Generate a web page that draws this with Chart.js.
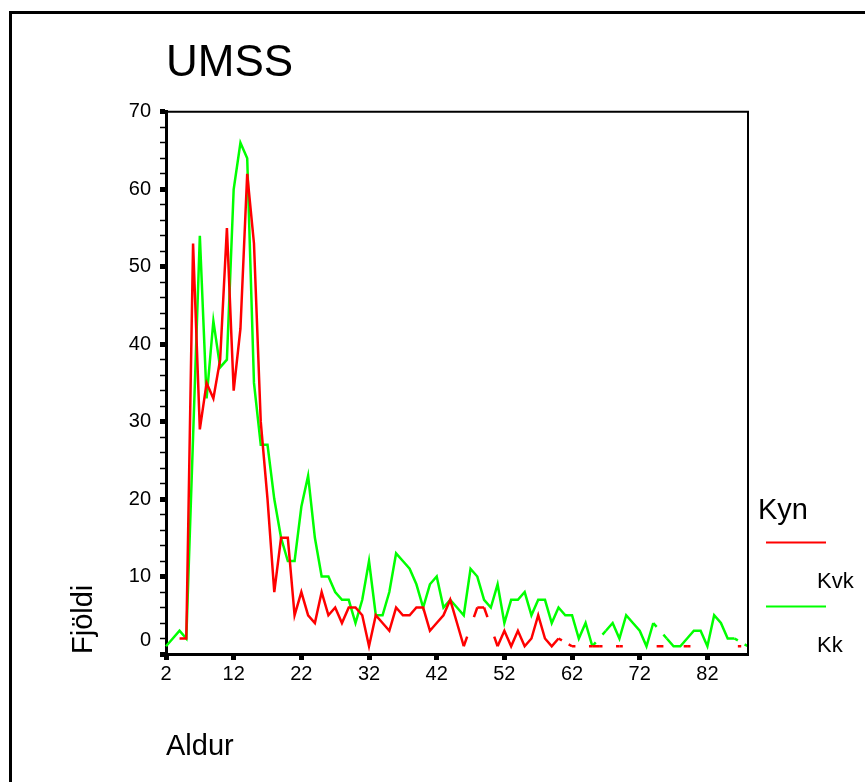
<!DOCTYPE html>
<html>
<head>
<meta charset="utf-8">
<script src="https://cdn.jsdelivr.net/npm/chart.js@4.4.0/dist/chart.umd.min.js"></script>
<style>
  html, body { margin: 0; padding: 0; background: #fff; }
  #wrap { position: relative; width: 865px; height: 782px; overflow: hidden; }
  #frame { position: absolute; left: 9px; top: 11px; width: 900px; height: 900px;
           border-left: 3px solid #000; border-top: 3px solid #000; }
  canvas { position: absolute; left: 0; top: 0; }
</style>
</head>
<body>
<div id="wrap">
  <div id="frame"></div>
  <canvas id="umssChart" width="865" height="782"></canvas>
</div>
<script>
// Aldur (age) categories
const ages = [
  2, 3, 4, 5, 6, 7, 8, 9, 10, 11, 12, 13, 14, 15, 16, 17, 18, 19, 20, 21,
  22, 23, 24, 25, 26, 27, 28, 29, 30, 31, 32, 33, 34, 35, 36, 37, 38, 39, 40, 41,
  42, 43, 44, 45, 46, 47, 48, 49, 50, 51, 52, 53, 54, 55, 56, 57, 58, 59, 60, 61,
  62, 63, 64, 65, 66, 67, 68, 69, 70, 71, 72, 73, 74, 75, 76, 77, 78, 79, 80, 81,
  82, 83, 84, 85, 86, 87, 88
];

// Fjöldi per age, null = no cases at that age
const kvk = [
  null, null, 2, 2, 53, 29, 35, 33, 38, 55, 34, 42, 62, 53, 30, 20, 8, 15, 15, 5,
  8, 5, 4, 8, 5, 6, 4, 6, 6, 5, 1, 5, 4, 3, 6, 5, 5, 6, 6, 3,
  4, 5, 7, 4, 1, null, 6, 6, null, 1, 3, 1, 3, 1, 2, 5, 2, 1, 2, null,
  1, null, null, 1, 1, null, null, 1, null, null, null, null, null, 1, null, null, null, 1, null, null,
  null, null, null, null, null, 1, null
];

const kk = [
  1, 2, 3, 2, 28, 54, 33, 43, 37, 38, 60, 66, 64, 35, 27, 27, 20, 15, 12, 12,
  19, 23, 15, 10, 10, 8, 7, 7, 4, 7, 12, 5, 5, 8, 13, 12, 11, 9, 6, 9,
  10, 6, 7, 6, 5, 11, 10, 7, 6, 9, 4, 7, 7, 8, 5, 7, 7, 4, 6, 5,
  5, 2, 4, 1, null, 3, 4, 2, 5, 4, 3, 1, 4, null, 2, 1, 1, 2, 3, 3,
  1, 5, 4, 2, 2, null, 1
];

const xTickLabels = [2, 12, 22, 32, 42, 52, 62, 72, 82];
const yTickLabels = [0, 10, 20, 30, 40, 50, 60, 70];
const legendTitle = "Kyn";

const FONT = '"Liberation Sans", Arial, sans-serif';

// SPSS keeps the line through a missing age but leaves half a step blank
// on each side of it; do the same with a dash on the spanned segment.
function gapDash(ctx) {
  if (!ctx.p0.skip && !ctx.p1.skip) return undefined;
  const values = ctx.chart.data.datasets[ctx.datasetIndex].data;
  let a = ctx.p0DataIndex;
  while (a >= 0 && values[a] == null) a--;
  let b = ctx.p1DataIndex;
  while (b < values.length && values[b] == null) b++;
  if (a < 0 || b >= values.length) return undefined;
  const pts = ctx.chart.getDatasetMeta(ctx.datasetIndex).data;
  const len = Math.hypot(pts[b].x - pts[a].x, pts[b].y - pts[a].y);
  const half = len * 0.5 / (b - a);
  return [half, len - 2 * half, half + 20];
}

const spssExtras = {
  id: "spssExtras",
  afterDraw(chart) {
    const { ctx, chartArea: area, scales } = chart;
    ctx.save();

    // top and right edges of the plot box
    ctx.strokeStyle = "#000";
    ctx.lineWidth = 2;
    ctx.beginPath();
    ctx.moveTo(area.left, area.top);
    ctx.lineTo(area.right, area.top);
    ctx.lineTo(area.right, area.bottom);
    ctx.stroke();

    // the zero label sits a little above the baseline in the original
    ctx.fillStyle = "#000";
    ctx.font = "20px " + FONT;
    ctx.textAlign = "right";
    ctx.textBaseline = "middle";
    ctx.fillText(String(yTickLabels[0]), area.left - 15, scales.y.getPixelForValue(2) + 2);

    // legend
    ctx.textAlign = "left";
    ctx.textBaseline = "alphabetic";
    ctx.font = "29px " + FONT;
    ctx.fillText(legendTitle, 758, 519);
    chart.data.datasets.forEach((ds, i) => {
      const ly = 542.5 + i * 64;
      ctx.strokeStyle = ds.borderColor;
      ctx.lineWidth = 2;
      ctx.beginPath();
      ctx.moveTo(766, ly);
      ctx.lineTo(826, ly);
      ctx.stroke();
      ctx.font = "22px " + FONT;
      ctx.fillStyle = "#000";
      ctx.fillText(ds.label, 817, ly + 45);
    });

    ctx.restore();
  }
};

const lineStyle = {
  borderWidth: 2.5,
  pointRadius: 0,
  tension: 0,
  spanGaps: true,
  borderCapStyle: "butt",
  borderJoinStyle: "miter",
  segment: { borderDash: gapDash }
};

new Chart(document.getElementById("umssChart"), {
  type: "line",
  data: {
    labels: ages,
    datasets: [
      { label: "Kvk", data: kvk, borderColor: "#ff0000", ...lineStyle },
      { label: "Kk", data: kk, borderColor: "#00ff00", ...lineStyle }
    ]
  },
  options: {
    responsive: false,
    animation: false,
    devicePixelRatio: 1,
    layout: { padding: { left: 0, right: 117, top: 0, bottom: 0 } },
    plugins: {
      legend: { display: false },
      tooltip: { enabled: false },
      title: {
        display: true,
        text: "UMSS",
        align: "start",
        fullSize: false,
        color: "#000",
        font: { family: FONT, size: 44, weight: "normal" },
        padding: { top: 37, bottom: 22 }
      }
    },
    scales: {
      x: {
        type: "category",
        border: { color: "#000", width: 3 },
        grid: {
          drawOnChartArea: false,
          tickLength: 6,
          tickWidth: 5,
          tickColor: c => xTickLabels.includes(ages[c.index]) ? "#000" : "rgba(0,0,0,0)"
        },
        ticks: {
          autoSkip: false,
          maxRotation: 0,
          padding: 2,
          color: "#000",
          font: { family: FONT, size: 20 },
          callback: (v, i) => xTickLabels.includes(ages[i]) ? String(ages[i]) : ""
        },
        title: {
          display: true,
          text: "Aldur",
          align: "start",
          color: "#000",
          font: { family: FONT, size: 29 },
          padding: { top: 0, bottom: 18 }
        },
        afterFit: s => { s.height = 128; }
      },
      y: {
        min: 0,
        max: 70,
        border: { color: "#000", width: 3 },
        grid: {
          drawOnChartArea: false,
          tickLength: 6,
          tickColor: "#000",
          tickWidth: c => c.tick.value % 10 === 0 ? 5 : 1.5
        },
        ticks: {
          stepSize: 2,
          autoSkip: false,
          padding: 9,
          color: "#000",
          font: { family: FONT, size: 20 },
          callback: v => (yTickLabels.includes(v) && v !== yTickLabels[0]) ? String(v) : ""
        },
        title: {
          display: true,
          text: "Fjöldi",
          align: "start",
          color: "#000",
          font: { family: FONT, size: 29 },
          padding: { top: 67, bottom: 0 }
        },
        afterFit: s => { s.width = 166; }
      }
    }
  },
  plugins: [spssExtras]
});
</script>
</body>
</html>
